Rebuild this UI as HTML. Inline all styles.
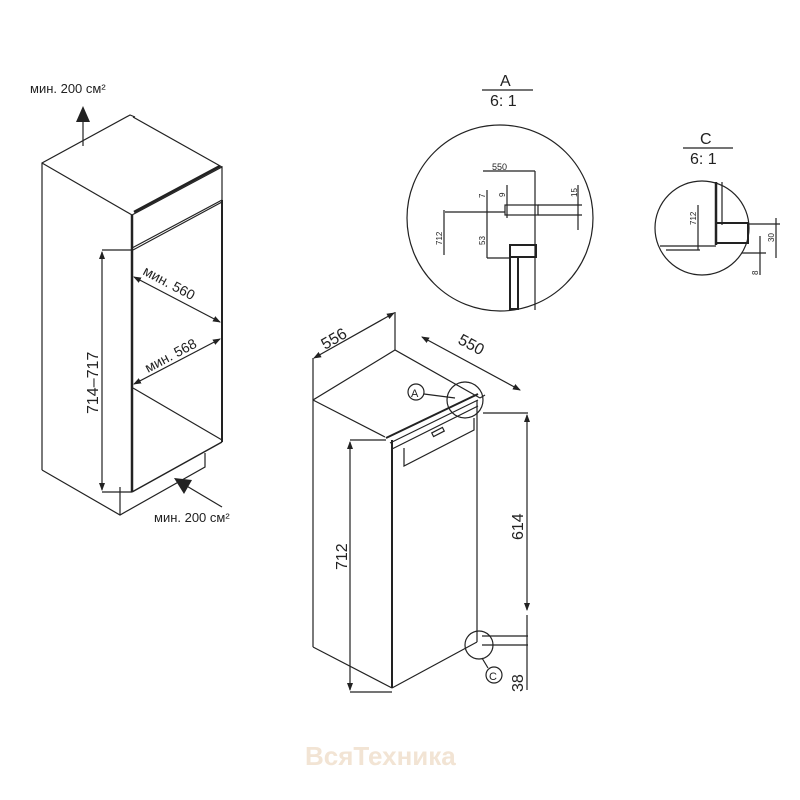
<!DOCTYPE html>
<html><head><meta charset="utf-8"><style>
html,body{margin:0;padding:0;background:#fff;width:800px;height:800px;overflow:hidden}
svg{display:block}
text{font-family:"Liberation Sans","DejaVu Sans",sans-serif;fill:#222}
</style></head><body>
<svg width="800" height="800" viewBox="0 0 800 800" xmlns="http://www.w3.org/2000/svg">
<defs>
<marker id="ar" markerWidth="8" markerHeight="6" refX="7" refY="3" orient="auto" markerUnits="userSpaceOnUse"><path d="M0,0 L8,3 L0,6 z" fill="#222"/></marker>
<marker id="as" markerWidth="8" markerHeight="6" refX="1" refY="3" orient="auto" markerUnits="userSpaceOnUse"><path d="M8,0 L0,3 L8,6 z" fill="#222"/></marker>
</defs>
<g stroke="#222" fill="none" stroke-width="1.2">
<!-- left cabinet -->
<polyline points="42,470 42,163 130,115 135,117"/>
<line x1="42" y1="163" x2="132" y2="215"/>
<line x1="133" y1="117" x2="222" y2="167"/>
<polyline points="132,215 222,167 222,200 132,248"/>
<line x1="134" y1="212" x2="220" y2="166" stroke-width="2.5"/>
<line x1="132" y1="215" x2="132" y2="492" stroke-width="2.5"/>
<line x1="222" y1="200" x2="222" y2="442" stroke-width="2"/>
<line x1="133" y1="250" x2="222" y2="202"/>
<line x1="133" y1="388" x2="222" y2="440"/>
<line x1="132" y1="492" x2="222" y2="442" stroke-width="1.5"/>
<polyline points="42,470 120,515 205,467 205,453"/>
<line x1="120" y1="487" x2="120" y2="515"/>
<!-- 714-717 dim -->
<line x1="102" y1="252" x2="102" y2="490" marker-start="url(#as)" marker-end="url(#ar)"/>
<line x1="102" y1="250" x2="132" y2="250"/>
<line x1="102" y1="492" x2="132" y2="492"/>
<line x1="134" y1="277" x2="220" y2="322" marker-start="url(#as)" marker-end="url(#ar)"/>
<line x1="134" y1="384" x2="220" y2="339" marker-start="url(#as)" marker-end="url(#ar)"/>
<!-- airflow arrows -->
<line x1="83" y1="146" x2="83" y2="118"/>
<line x1="222" y1="507" x2="185" y2="485"/>
<!-- fridge -->
<polyline points="313,647 313,400 395,350 480,398"/>
<line x1="313" y1="400" x2="385" y2="437"/>
<line x1="313" y1="647" x2="392" y2="688"/>
<line x1="392" y1="440" x2="392" y2="688" stroke-width="2"/>
<line x1="392" y1="688" x2="477" y2="642"/>
<line x1="477" y1="400" x2="477" y2="642"/>
<line x1="386" y1="438" x2="478" y2="394" stroke-width="2"/>
<line x1="390" y1="443" x2="478" y2="400"/>
<line x1="392" y1="449" x2="478" y2="406"/>
<polyline points="404,448 404,466 474,430 474,418"/>
<rect x="432" y="430" width="12" height="4" transform="rotate(-27 438 432)"/>
<!-- fridge dims -->
<line x1="313" y1="358" x2="313" y2="400"/>
<line x1="395" y1="312" x2="395" y2="350"/>
<line x1="314" y1="358" x2="394" y2="313" marker-start="url(#as)" marker-end="url(#ar)"/>
<line x1="422" y1="337" x2="520" y2="390" marker-start="url(#as)" marker-end="url(#ar)"/>
<line x1="480" y1="398" x2="485" y2="395"/>
<line x1="350" y1="442" x2="350" y2="690" marker-start="url(#as)" marker-end="url(#ar)"/>
<line x1="350" y1="440" x2="386" y2="440"/>
<line x1="350" y1="692" x2="392" y2="692"/>
<line x1="483" y1="413" x2="528" y2="413"/>
<line x1="527" y1="415" x2="527" y2="610" marker-start="url(#as)" marker-end="url(#ar)"/>
<line x1="527" y1="615" x2="527" y2="690"/>
<line x1="482" y1="636" x2="528" y2="636"/>
<line x1="482" y1="645" x2="528" y2="645"/>
<circle cx="465" cy="400" r="18"/>
<circle cx="479" cy="645" r="14"/>
<circle cx="416" cy="392" r="8"/>
<line x1="424" y1="394" x2="455" y2="398"/>
<circle cx="494" cy="675" r="8"/>
<line x1="488" y1="668" x2="482" y2="658"/>
<!-- detail A -->
<line x1="482" y1="90" x2="533" y2="90"/>
<circle cx="500" cy="218" r="93"/>
<line x1="483" y1="171" x2="535" y2="171"/>
<line x1="535" y1="171" x2="535" y2="310"/>
<line x1="445" y1="212" x2="505" y2="212"/>
<rect x="505" y="205" width="33" height="10"/>
<line x1="538" y1="205" x2="582" y2="205"/>
<line x1="538" y1="215" x2="582" y2="215"/>
<line x1="578" y1="185" x2="578" y2="230"/>
<line x1="487" y1="190" x2="487" y2="258"/>
<line x1="507" y1="185" x2="507" y2="218"/>
<line x1="444" y1="210" x2="444" y2="255"/>
<line x1="487" y1="258" x2="510" y2="258"/>
<rect x="510" y="245" width="26" height="12" stroke-width="2"/>
<rect x="510" y="257" width="8" height="52" stroke-width="2"/>
<!-- detail C -->
<line x1="683" y1="148" x2="733" y2="148"/>
<circle cx="702" cy="228" r="47"/>
<line x1="716" y1="182" x2="716" y2="245" stroke-width="2.5"/>
<line x1="722" y1="182" x2="722" y2="225"/>
<rect x="716" y="223" width="32" height="20" stroke-width="2"/>
<line x1="660" y1="246" x2="716" y2="246"/>
<line x1="666" y1="250" x2="700" y2="250"/>
<line x1="698" y1="205" x2="698" y2="250"/>
<line x1="748" y1="224" x2="780" y2="224"/>
<line x1="776" y1="218" x2="776" y2="258"/>
<line x1="760" y1="236" x2="760" y2="275"/>
<line x1="742" y1="253" x2="766" y2="253"/>
</g>
<path d="M83,106 L76,122 L90,122 z" fill="#222"/>
<path d="M174,478 L192,480 L184,494 z" fill="#222"/>
<text x="30" y="93" font-size="13">мин. 200 см²</text>
<text x="154" y="522" font-size="13">мин. 200 см²</text>
<text transform="translate(142,274) rotate(28)" font-size="14">мин. 560</text>
<text transform="translate(148,373) rotate(-28)" font-size="14">мин. 568</text>
<text transform="translate(98,414) rotate(-90)" font-size="16">714–717</text>
<text transform="translate(325,350) rotate(-30)" font-size="16">556</text>
<text transform="translate(457,343) rotate(28)" font-size="16">550</text>
<text transform="translate(347,570) rotate(-90)" font-size="16">712</text>
<text transform="translate(523,540) rotate(-90)" font-size="16">614</text>
<text transform="translate(523,692) rotate(-90)" font-size="16">38</text>
<text x="411" y="397" font-size="11">A</text>
<text x="489" y="680" font-size="11">C</text>
<text x="500" y="86" font-size="16">A</text>
<text x="490" y="106" font-size="16">6: 1</text>
<text x="700" y="144" font-size="16">C</text>
<text x="690" y="164" font-size="16">6: 1</text>
<text x="492" y="170" font-size="9">550</text>
<text font-size="8" transform="translate(485,198) rotate(-90)">7</text>
<text font-size="8" transform="translate(505,197) rotate(-90)">9</text>
<text font-size="8" transform="translate(577,197) rotate(-90)">15</text>
<text font-size="8" transform="translate(442,245) rotate(-90)">712</text>
<text font-size="8" transform="translate(485,245) rotate(-90)">53</text>
<text font-size="8" transform="translate(696,225) rotate(-90)">712</text>
<text font-size="8" transform="translate(774,242) rotate(-90)">30</text>
<text font-size="8" transform="translate(758,275) rotate(-90)">8</text>
<text x="305" y="765" font-size="26" font-weight="bold" fill="#f3e6d8" style="fill:#f2e4d4">ВсяТехника</text>
</svg>
</body></html>
